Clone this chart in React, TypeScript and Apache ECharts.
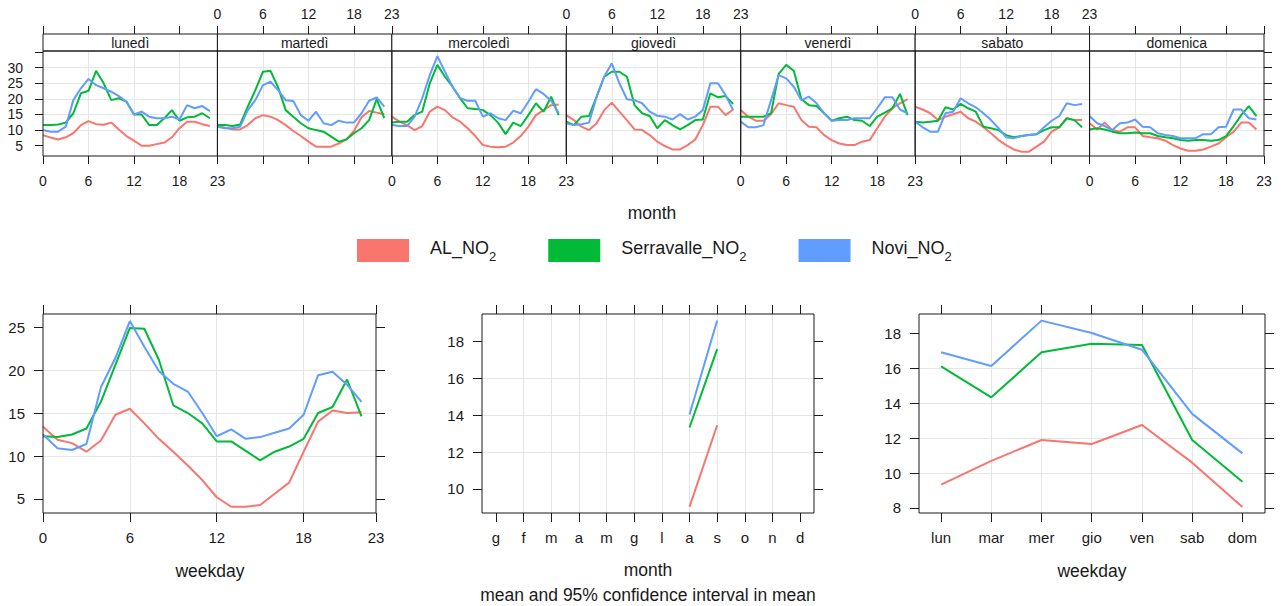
import { useEffect, useRef } from "react";
import * as echarts from "echarts";

const FONT = "'Liberation Sans', Arial, Helvetica, sans-serif";
const INK = "#1a1a1a";
const GRID = "#e6e6e6";

const hours = [0, 1, 2, 3, 4, 5, 6, 7, 8, 9, 10, 11, 12, 13, 14, 15, 16, 17, 18, 19, 20, 21, 22];
const hourTicks = [0, 6, 12, 18, 23];
const dayStrips = ["lunedì", "martedì", "mercoledì", "giovedì", "venerdì", "sabato", "domenica"];
const stations = ["AL", "Serravalle", "Novi"];
const seriesNames = stations.map((s) => `${s}_NO2`);
const colors = ["#F8766D", "#00BA38", "#619CFF"];

// hour of day, one row per weekday (lunedì .. domenica)
const alByDay = [
  [8.4, 7.6, 7.0, 7.7, 9.0, 11.6, 12.9, 11.9, 11.7, 12.4, 10.2, 8.1, 6.6, 5.0, 5.0, 5.5, 6.0, 7.7, 10.6, 12.7, 12.7, 11.9, 11.3],
  [11.6, 10.8, 10.2, 10.2, 11.6, 13.8, 14.8, 14.3, 13.2, 11.6, 9.7, 8.1, 6.3, 4.7, 4.7, 4.7, 5.7, 7.0, 9.7, 14.1, 16.1, 15.6, 15.1],
  [14.3, 12.7, 11.6, 10.0, 11.3, 15.9, 17.5, 16.4, 14.1, 12.7, 10.6, 8.1, 5.2, 4.7, 4.5, 4.7, 6.0, 8.1, 11.1, 14.8, 16.4, 18.0, 18.2],
  [14.8, 13.2, 11.1, 10.0, 12.2, 16.4, 18.8, 15.9, 13.2, 10.2, 10.0, 8.4, 6.3, 4.9, 3.8, 3.8, 5.2, 7.0, 11.6, 17.5, 17.5, 14.8, 16.6],
  [16.4, 14.3, 13.0, 13.0, 15.1, 18.6, 18.0, 17.5, 13.2, 11.1, 10.9, 8.4, 6.8, 5.7, 5.2, 5.2, 6.3, 6.8, 10.6, 14.3, 17.0, 18.6, 19.9],
  [17.5, 16.6, 15.4, 13.2, 14.3, 15.1, 15.9, 13.8, 12.7, 10.9, 9.0, 6.8, 5.2, 3.8, 3.1, 3.1, 4.7, 6.3, 9.5, 10.9, 13.8, 13.2, 13.2],
  [12.2, 10.2, 12.4, 10.0, 9.5, 10.9, 10.9, 8.1, 7.7, 7.4, 6.6, 5.2, 4.1, 3.4, 3.4, 3.8, 4.7, 5.7, 7.7, 9.5, 12.4, 12.4, 10.2],
];
const serravalleByDay = [
  [11.6, 11.6, 11.8, 12.4, 15.4, 21.8, 22.6, 29.0, 25.0, 19.6, 20.2, 19.1, 15.0, 15.0, 11.6, 11.6, 13.8, 16.4, 13.0, 14.1, 14.3, 15.4, 13.8],
  [11.6, 11.6, 11.3, 11.8, 17.5, 22.8, 28.7, 29.0, 23.7, 16.4, 14.3, 12.2, 10.6, 10.0, 9.5, 7.9, 6.3, 7.0, 9.0, 10.6, 13.2, 19.9, 13.8],
  [12.4, 12.7, 12.7, 14.8, 15.9, 25.0, 30.9, 27.1, 23.9, 20.2, 17.0, 16.8, 16.4, 14.8, 12.4, 8.7, 12.4, 11.3, 14.8, 18.6, 15.9, 20.7, 14.8],
  [12.7, 11.6, 14.3, 14.5, 20.7, 27.1, 28.7, 28.7, 27.1, 18.0, 15.4, 14.5, 10.6, 13.2, 11.6, 10.2, 11.6, 13.2, 13.4, 21.8, 20.5, 20.9, 18.4],
  [14.3, 14.3, 14.3, 14.3, 15.4, 28.0, 30.9, 29.0, 19.9, 18.0, 17.7, 15.4, 13.0, 13.8, 14.3, 13.2, 13.0, 11.3, 14.3, 15.6, 17.0, 21.6, 14.8],
  [12.7, 12.4, 12.7, 13.0, 17.3, 16.6, 18.4, 17.0, 15.9, 11.1, 10.6, 10.0, 8.4, 7.7, 8.1, 8.4, 8.7, 10.0, 10.9, 10.9, 13.8, 13.2, 10.9],
  [10.2, 10.6, 10.2, 9.5, 9.0, 9.0, 9.2, 9.0, 9.0, 8.1, 7.7, 7.4, 6.8, 6.6, 6.8, 6.8, 6.6, 6.8, 8.1, 11.3, 14.8, 17.7, 14.5],
];
const noviByDay = [
  [10.0, 9.5, 9.5, 11.1, 19.6, 23.4, 26.4, 24.4, 23.4, 22.3, 20.9, 19.1, 15.0, 15.9, 14.3, 13.8, 13.8, 14.3, 13.4, 18.0, 17.0, 17.7, 16.1],
  [11.1, 10.6, 10.6, 11.1, 16.4, 19.6, 24.4, 25.5, 22.8, 19.6, 19.3, 14.8, 13.0, 15.9, 12.2, 11.6, 13.0, 12.4, 12.4, 15.4, 19.4, 20.5, 17.5],
  [11.6, 11.3, 11.3, 14.3, 20.2, 27.6, 33.7, 28.7, 23.9, 20.2, 19.4, 19.4, 14.3, 15.4, 13.8, 13.2, 16.2, 15.4, 19.1, 23.1, 21.6, 19.4, 15.4],
  [12.2, 11.6, 11.9, 12.4, 20.7, 27.1, 31.4, 25.0, 19.9, 19.6, 18.6, 15.9, 14.6, 14.3, 13.4, 15.1, 13.4, 14.3, 16.4, 25.0, 25.0, 21.2, 16.4],
  [12.7, 10.9, 10.9, 11.6, 19.6, 27.6, 26.6, 23.9, 19.6, 20.7, 18.6, 15.4, 13.0, 13.2, 13.2, 13.8, 13.8, 13.8, 17.0, 20.5, 20.5, 16.6, 15.4],
  [12.7, 10.9, 9.5, 9.5, 15.4, 15.9, 20.2, 18.6, 17.3, 15.4, 13.2, 10.6, 7.7, 7.4, 8.1, 8.4, 8.7, 10.9, 13.0, 14.5, 18.6, 18.0, 18.4],
  [14.5, 12.2, 11.3, 10.0, 12.2, 12.4, 13.4, 11.1, 10.9, 9.0, 8.4, 8.1, 7.4, 7.4, 7.4, 8.7, 8.7, 10.9, 11.1, 16.6, 16.6, 13.8, 13.4],
];

// hour of day, all days
const alHour = [13.4, 11.9, 11.5, 10.5, 11.8, 14.8, 15.5, 13.8, 12.0, 10.5, 8.9, 7.2, 5.2, 4.1, 4.1, 4.3, 5.6, 6.9, 10.5, 14.0, 15.3, 15.0, 15.1];
const serravalleHour = [12.3, 12.2, 12.5, 13.2, 16.3, 20.6, 24.9, 24.8, 21.2, 15.9, 15.0, 13.8, 11.7, 11.7, 10.6, 9.5, 10.5, 11.1, 12.0, 15.0, 15.7, 18.9, 14.6];
const noviHour = [12.5, 10.9, 10.7, 11.4, 18.0, 21.4, 25.7, 22.7, 19.9, 18.4, 17.5, 15.0, 12.3, 13.1, 12.0, 12.2, 12.7, 13.2, 14.8, 19.4, 19.8, 18.3, 16.3];

// month
const monthLabels = ["g", "f", "m", "a", "m", "g", "l", "a", "s", "o", "n", "d"];
const alMonth = [null, null, null, null, null, null, null, 9.02, 13.45, null, null, null];
const serravalleMonth = [null, null, null, null, null, null, null, 13.33, 17.58, null, null, null];
const noviMonth = [null, null, null, null, null, null, null, 14.04, 19.14, null, null, null];

// weekday
const weekdayLabels = ["lun", "mar", "mer", "gio", "ven", "sab", "dom"];
const alWeekday = [9.34, 10.7, 11.9, 11.67, 12.76, 10.6, 8.06];
const serravalleWeekday = [16.13, 14.35, 16.94, 17.42, 17.35, 11.9, 9.5];
const noviWeekday = [16.94, 16.15, 18.75, 18.04, 17.08, 13.4, 11.13];

const topYTicks = [5, 10, 15, 20, 25, 30, 35];
const topYLabels = [5, 10, 15, 20, 25, 30];
const hourYTicks = [5, 10, 15, 20, 25];
const monthYTicks = [10, 12, 14, 16, 18];
const weekdayYTicks = [8, 10, 12, 14, 16, 18];
const monthTicks = monthLabels.map((_, i) => i);
const weekdayTicks = weekdayLabels.map((_, i) => i);

type Panel = {
  left: number;
  top: number;
  width: number;
  height: number;
  xMin: number;
  xMax: number;
  xStep: Record<string, number>;
  xTicks: number[];
  xFormat?: (v: number) => string;
  bottomLabels: boolean;
  topLabels: boolean;
  topOffset: number;
  yMin: number;
  yMax: number;
  yStep: number;
  yTicks: number[];
  yLabels: number[] | null;
  rightTicks: boolean;
  tickLen: number;
  fontSize: number;
  xMargin: number;
  yMargin: number;
};

function buildOption() {
  const grid: any[] = [];
  const xAxis: any[] = [];
  const yAxis: any[] = [];
  const series: any[] = [];
  const graphic: any[] = [];

  const noLine = { show: false, onZero: false };
  const tick = (show: boolean, len: number, values: number[]) => ({
    show,
    length: len,
    inside: false,
    customValues: values,
    lineStyle: { color: INK, width: 1 },
  });
  const label = (show: boolean, size: number, margin: number, values: number[], formatter?: any) => ({
    show,
    fontSize: size,
    margin,
    color: INK,
    fontFamily: FONT,
    customValues: values,
    formatter,
  });
  const split = (show: boolean) => ({
    show,
    showMinLine: false,
    showMaxLine: false,
    lineStyle: { color: GRID, width: 1 },
  });

  const addPanel = (p: Panel) => {
    const g = grid.length;
    grid.push({ left: p.left, top: p.top, width: p.width, height: p.height, show: false });
    const xi = xAxis.length;
    xAxis.push({
      gridIndex: g,
      type: "value",
      position: "bottom",
      min: p.xMin,
      max: p.xMax,
      ...p.xStep,
      axisLine: noLine,
      axisTick: tick(true, p.tickLen, p.xTicks),
      axisLabel: label(p.bottomLabels, p.fontSize, p.xMargin, p.xTicks, p.xFormat),
      splitLine: split(true),
    });
    xAxis.push({
      gridIndex: g,
      type: "value",
      position: "top",
      offset: p.topOffset,
      min: p.xMin,
      max: p.xMax,
      ...p.xStep,
      axisLine: noLine,
      axisTick: tick(true, p.tickLen, p.xTicks),
      axisLabel: label(p.topLabels, p.fontSize, 13, p.xTicks, p.xFormat),
      splitLine: { show: false },
    });
    const yi = yAxis.length;
    yAxis.push({
      gridIndex: g,
      type: "value",
      position: "left",
      min: p.yMin,
      max: p.yMax,
      minInterval: p.yStep,
      maxInterval: p.yStep,
      axisLine: noLine,
      axisTick: tick(p.yLabels !== null, p.tickLen, p.yTicks),
      axisLabel: label(p.yLabels !== null, p.fontSize, p.yMargin, p.yLabels ?? p.yTicks),
      splitLine: split(true),
    });
    if (p.rightTicks) {
      yAxis.push({
        gridIndex: g,
        type: "value",
        position: "right",
        min: p.yMin,
        max: p.yMax,
        minInterval: p.yStep,
        maxInterval: p.yStep,
        axisLine: noLine,
        axisTick: tick(true, p.tickLen, p.yTicks),
        axisLabel: { show: false },
        splitLine: { show: false },
      });
    }
    graphic.push({
      type: "rect",
      z: 100,
      shape: { x: p.left, y: p.top, width: p.width, height: p.height },
      style: { fill: "none", stroke: INK, lineWidth: 1 },
    });
    return { xi, yi };
  };

  const addLines = (axes: { xi: number; yi: number }, xs: number[], values: (number | null)[][]) => {
    values.forEach((vals, s) => {
      series.push({
        type: "line",
        name: seriesNames[s],
        xAxisIndex: axes.xi,
        yAxisIndex: axes.yi,
        data: xs.map((x, k) => [x, vals[k]]),
        showSymbol: false,
        symbol: "none",
        silent: true,
        lineStyle: { width: 2, color: colors[s] },
        itemStyle: { color: colors[s] },
        emphasis: { disabled: true },
      });
    });
  };

  // seven weekday panels along the top
  const stripTop = 34;
  const stripH = 17;
  const topLeft = 43;
  const topW = (1264 - 43) / 7;
  dayStrips.forEach((day, i) => {
    const left = topLeft + i * topW;
    const axes = addPanel({
      left,
      top: stripTop + stripH,
      width: topW,
      height: 105,
      xMin: 0,
      xMax: 23,
      xStep: { interval: 6 },
      xTicks: hourTicks,
      bottomLabels: i % 2 === 0,
      topLabels: i % 2 === 1,
      topOffset: stripH,
      yMin: 1.7,
      yMax: 35.35,
      yStep: 5,
      yTicks: topYTicks,
      yLabels: i === 0 ? topYLabels : null,
      rightTicks: i === 6,
      tickLen: 8,
      fontSize: 14,
      xMargin: 18,
      yMargin: 20,
    });
    addLines(axes, hours, [alByDay[i], serravalleByDay[i], noviByDay[i]]);
    graphic.push({
      type: "rect",
      z: 90,
      shape: { x: left, y: stripTop, width: topW, height: stripH },
      style: { fill: "#ffffff", stroke: INK, lineWidth: 1 },
    });
    graphic.push({
      type: "text",
      z: 91,
      x: left + topW / 2,
      y: stripTop + stripH / 2 + 0.5,
      style: { text: day, fontSize: 14, fontFamily: FONT, fill: INK, textAlign: "center", textVerticalAlign: "middle" },
    });
  });

  const bottomCommon = {
    top: 314,
    height: 199,
    bottomLabels: true,
    topLabels: false,
    topOffset: 0,
    rightTicks: true,
    tickLen: 9,
    fontSize: 15,
    xMargin: 17,
    yMargin: 18,
  };

  const hourAxes = addPanel({
    ...bottomCommon,
    left: 43,
    width: 333,
    xMin: 0,
    xMax: 23,
    xStep: { interval: 6 },
    xTicks: hourTicks,
    yMin: 3.37,
    yMax: 26.52,
    yStep: 5,
    yTicks: hourYTicks,
    yLabels: hourYTicks,
  });
  addLines(hourAxes, hours, [alHour, serravalleHour, noviHour]);

  const monthAxes = addPanel({
    ...bottomCommon,
    left: 482,
    width: 332,
    xMin: -0.5,
    xMax: 11.5,
    xStep: { minInterval: 1, maxInterval: 1 },
    xTicks: monthTicks,
    xFormat: (v: number) => monthLabels[Math.round(v)] ?? "",
    yMin: 8.69,
    yMax: 19.49,
    yStep: 2,
    yTicks: monthYTicks,
    yLabels: monthYTicks,
  });
  addLines(monthAxes, monthTicks, [alMonth, serravalleMonth, noviMonth]);

  const weekdayAxes = addPanel({
    ...bottomCommon,
    left: 919,
    width: 346,
    xMin: -0.44,
    xMax: 6.45,
    xStep: { minInterval: 1, maxInterval: 1 },
    xTicks: weekdayTicks,
    xFormat: (v: number) => weekdayLabels[Math.round(v)] ?? "",
    yMin: 7.71,
    yMax: 19.13,
    yStep: 2,
    yTicks: weekdayYTicks,
    yLabels: weekdayYTicks,
  });
  addLines(weekdayAxes, weekdayTicks, [alWeekday, serravalleWeekday, noviWeekday]);

  const title = (text: string, x: number, y: number) => ({
    type: "text",
    z: 91,
    x,
    y,
    style: { text, fontSize: 17.5, fontFamily: FONT, fill: INK, textAlign: "center", textVerticalAlign: "middle" },
  });
  graphic.push(title("month", 652, 213));
  graphic.push(title("weekday", 210, 571));
  graphic.push(title("month", 648, 570));
  graphic.push(title("weekday", 1092, 571));
  graphic.push(title("mean and 95% confidence interval in mean", 648, 595));

  return {
    animation: false,
    backgroundColor: "#ffffff",
    textStyle: { fontFamily: FONT },
    grid,
    xAxis,
    yAxis,
    series,
    graphic,
    legend: {
      left: 357,
      top: 238.5,
      padding: 0,
      orient: "horizontal",
      icon: "rect",
      itemWidth: 52,
      itemHeight: 23,
      itemGap: 52,
      selectedMode: false,
      data: seriesNames,
      itemStyle: { borderWidth: 0 },
      formatter: (name: string) => {
        const station = stations[seriesNames.indexOf(name)];
        return `{n|${station}_NO}{s|2}`;
      },
      textStyle: {
        color: INK,
        fontFamily: FONT,
        rich: {
          n: { fontSize: 18, lineHeight: 24, verticalAlign: "top", padding: [0, 0, 0, 16], color: INK, fontFamily: FONT },
          s: { fontSize: 13, lineHeight: 13, verticalAlign: "bottom", color: INK, fontFamily: FONT },
        },
      },
    },
  };
}

export default function App() {
  const ref = useRef<HTMLDivElement | null>(null);

  useEffect(() => {
    if (!ref.current) {
      return;
    }
    const chart = echarts.init(ref.current, undefined, { renderer: "svg" });
    chart.setOption(buildOption() as any);
    return () => {
      chart.dispose();
    };
  }, []);

  return (
    <div
      ref={ref}
      style={{ position: "absolute", left: 0, top: 0, width: 1283, height: 606, background: "#ffffff" }}
    />
  );
}
